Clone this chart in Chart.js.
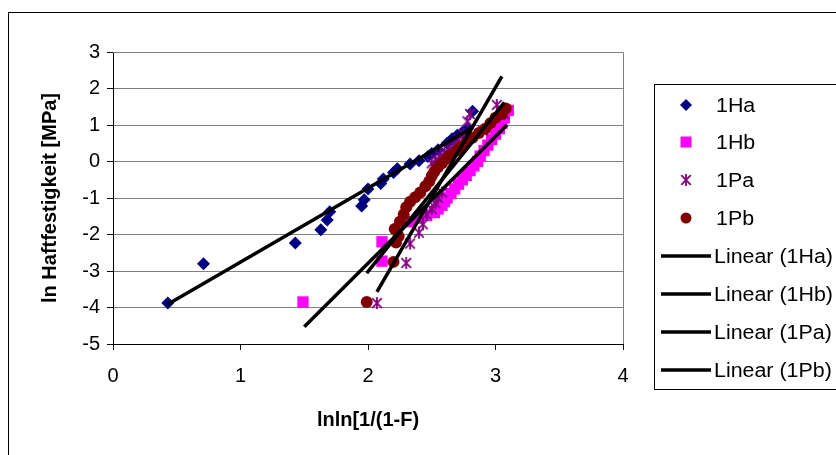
<!DOCTYPE html>
<html>
<head>
<meta charset="utf-8">
<script src="https://cdn.jsdelivr.net/npm/chart.js@4.4.1/dist/chart.umd.min.js"></script>
<style>
html, body { margin: 0; padding: 0; background: #fff; }
#wrap { width: 836px; height: 455px; position: relative; }
</style>
</head>
<body>
<div id="wrap"><canvas id="myChart" width="836" height="455"></canvas></div>
<script>
// x = lnln[1/(1-F)], y = ln Haftfestigkeit
var ha_x = [0.43, 0.71, 1.43, 1.63, 1.68, 1.70, 1.95, 1.97, 2.00, 2.10, 2.12, 2.20, 2.23, 2.33, 2.40, 2.47, 2.50, 2.55, 2.62, 2.66, 2.70, 2.74, 2.78, 2.82];
var ha_y = [-3.88, -2.80, -2.23, -1.87, -1.60, -1.38, -1.22, -1.05, -0.75, -0.60, -0.48, -0.30, -0.20, -0.07, 0.02, 0.14, 0.22, 0.32, 0.50, 0.62, 0.72, 0.80, 0.90, 1.38];

var hb_x = [1.49, 2.11, 2.11, 2.32, 2.40, 2.46, 2.52, 2.55, 2.58, 2.60, 2.62, 2.65, 2.68, 2.71, 2.74, 2.77, 2.80, 2.83, 2.86, 2.88, 2.91, 2.94, 2.97, 3.00, 3.03, 3.05, 3.07, 3.10];
var hb_y = [-3.85, -2.73, -2.20, -1.65, -1.55, -1.48, -1.40, -1.30, -1.20, -1.10, -1.00, -0.88, -0.75, -0.62, -0.50, -0.38, -0.25, -0.12, 0.00, 0.15, 0.30, 0.45, 0.60, 0.75, 0.90, 1.05, 1.20, 1.40];

var pa_x = [2.07, 2.30, 2.33, 2.40, 2.43, 2.46, 2.50, 2.53, 2.55, 2.58, 2.50, 2.53, 2.57, 2.60, 2.64, 2.68, 2.71, 2.75, 2.78, 2.80, 2.90, 3.01, 3.07];
var pa_y = [-3.88, -2.78, -2.25, -1.95, -1.72, -1.45, -1.30, -1.15, -1.00, -0.85, -0.05, 0.05, 0.15, 0.25, 0.35, 0.45, 0.60, 0.75, 1.10, 1.30, 0.85, 1.55, 1.30];

var pb_x = [1.99, 2.20, 2.22, 2.24, 2.21, 2.25, 2.28, 2.30, 2.33, 2.37, 2.41, 2.45, 2.48, 2.50, 2.52, 2.55, 2.58, 2.62, 2.65, 2.70, 2.73, 2.77, 2.82, 2.87, 2.92, 2.96, 3.00, 3.05, 3.08];
var pb_y = [-3.85, -2.75, -2.22, -2.05, -1.85, -1.65, -1.45, -1.25, -1.10, -0.98, -0.85, -0.68, -0.55, -0.40, -0.28, -0.15, -0.05, 0.08, 0.18, 0.30, 0.40, 0.52, 0.65, 0.78, 0.90, 1.05, 1.20, 1.30, 1.45];

// linear trend lines, end points
var fit_ha_x = [0.43, 2.82], fit_ha_y = [-3.91, 0.93];
var fit_hb_x = [1.50, 3.09], fit_hb_y = [-4.53, 1.00];
var fit_pa_x = [2.07, 3.05], fit_pa_y = [-3.57, 2.33];
var fit_pb_x = [1.99, 3.07], fit_pb_y = [-3.06, 1.62];

var seriesNames = ['1Ha', '1Hb', '1Pa', '1Pb'];

function pts(xs, ys) {
    var out = [];
    for (var i = 0; i < xs.length; i++) out.push({x: xs[i], y: ys[i]});
    return out;
}

// asterisk marker like the excel one
function makeStar(size, color) {
    var c = document.createElement('canvas');
    c.width = size; c.height = size;
    var g = c.getContext('2d');
    g.strokeStyle = color;
    g.lineWidth = 1.8;
    var m = size / 2, r = size / 2 - 1;
    g.beginPath();
    g.moveTo(m, m - r); g.lineTo(m, m + r);
    g.moveTo(m - r * 0.8, m - r * 0.8); g.lineTo(m + r * 0.8, m + r * 0.8);
    g.moveTo(m + r * 0.8, m - r * 0.8); g.lineTo(m - r * 0.8, m + r * 0.8);
    g.stroke();
    return c;
}
var starImg = makeStar(14, '#800080');

var FONT = "'Liberation Sans', Arial, sans-serif";

var frame = {
    id: 'frame',
    beforeDatasetsDraw: function(chart) {
        var a = chart.chartArea, ctx = chart.ctx;
        ctx.save();
        ctx.strokeStyle = '#808080';
        ctx.lineWidth = 1;
        ctx.beginPath();
        ctx.moveTo(a.left, a.top + 0.5); ctx.lineTo(a.right + 0.5, a.top + 0.5);
        ctx.lineTo(a.right + 0.5, a.bottom);
        ctx.stroke();
        ctx.restore();
    },
    afterDraw: function(chart) {
        var ctx = chart.ctx;
        ctx.save();
        // outer border
        ctx.strokeStyle = '#000';
        ctx.lineWidth = 1;
        ctx.strokeRect(8.5, 12.5, 900, 500);
        // legend box
        ctx.strokeRect(654.5, 84.5, 200, 305);
        ctx.fillStyle = '#000';
        ctx.textBaseline = 'middle';
        var rows = [105, 142, 180, 218, 256, 294, 332, 370];
        var dsets = chart.data.datasets;
        for (var i = 0; i < 8; i++) {
            var ds = dsets[i], y = rows[i];
            var tx = 716;
            if (i < 4) {
                drawMarker(ctx, ds, 686, y);
            } else {
                ctx.strokeStyle = '#000';
                ctx.lineWidth = 3.5;
                ctx.beginPath();
                ctx.moveTo(661, y); ctx.lineTo(711, y);
                ctx.stroke();
                tx = 714;
            }
            ctx.save();
            ctx.fillStyle = '#000';
            ctx.font = '20px ' + FONT;
            ctx.translate(tx, y + 1);
            ctx.scale(1.07, 1);
            ctx.fillText(ds.label, 0, 0);
            ctx.restore();
        }
        ctx.restore();
    }
};

function drawMarker(ctx, ds, x, y) {
    ctx.fillStyle = ds.backgroundColor;
    ctx.beginPath();
    if (ds.pointStyle === 'rectRot') {
        ctx.moveTo(x, y - 6); ctx.lineTo(x + 6, y); ctx.lineTo(x, y + 6); ctx.lineTo(x - 6, y);
        ctx.closePath(); ctx.fill();
    } else if (ds.pointStyle === 'rect') {
        ctx.rect(x - 5.5, y - 5.5, 11, 11); ctx.fill();
    } else if (ds.pointStyle === 'circle') {
        ctx.arc(x, y, 5.5, 0, Math.PI * 2); ctx.fill();
    } else {
        ctx.drawImage(starImg, x - 7, y - 7);
    }
}

window.onload = function(){
    var ctx = document.getElementById('myChart').getContext('2d');
    window.myChart = new Chart(ctx, {
        type: 'scatter',
        data: {
            datasets: [{
                label: seriesNames[0],
                data: pts(ha_x, ha_y),
                pointStyle: 'rectRot',
                radius: 6.5,
                backgroundColor: '#000080',
                borderColor: '#000080',
                borderWidth: 0,
                order: 8
            }, {
                label: seriesNames[1],
                data: pts(hb_x, hb_y),
                pointStyle: 'rect',
                radius: 8,
                backgroundColor: '#ff00ff',
                borderColor: '#ff00ff',
                borderWidth: 0,
                order: 7
            }, {
                label: seriesNames[2],
                data: pts(pa_x, pa_y),
                pointStyle: starImg,
                radius: 7,
                backgroundColor: '#800080',
                borderColor: '#800080',
                order: 6
            }, {
                label: seriesNames[3],
                data: pts(pb_x, pb_y),
                pointStyle: 'circle',
                radius: 6,
                backgroundColor: '#800000',
                borderColor: '#800000',
                borderWidth: 0,
                order: 5
            }, {
                label: 'Linear (1Ha)',
                data: pts(fit_ha_x, fit_ha_y),
                showLine: true, pointRadius: 0,
                borderColor: '#000', borderWidth: 3.5, order: 4
            }, {
                label: 'Linear (1Hb)',
                data: pts(fit_hb_x, fit_hb_y),
                showLine: true, pointRadius: 0,
                borderColor: '#000', borderWidth: 3.5, order: 3
            }, {
                label: 'Linear (1Pa)',
                data: pts(fit_pa_x, fit_pa_y),
                showLine: true, pointRadius: 0,
                borderColor: '#000', borderWidth: 3.5, order: 2
            }, {
                label: 'Linear (1Pb)',
                data: pts(fit_pb_x, fit_pb_y),
                showLine: true, pointRadius: 0,
                borderColor: '#000', borderWidth: 3.5, order: 1
            }]
        },
        options: {
            responsive: false,
            animation: false,
            events: [],
            layout: { padding: { left: 0, top: 52, right: 213, bottom: 0 } },
            plugins: {
                legend: { display: false },
                tooltip: { enabled: false }
            },
            scales: {
                x: {
                    type: 'linear',
                    min: 0, max: 4,
                    ticks: { stepSize: 1, color: '#000', padding: 14, font: { family: FONT, size: 20 } },
                    grid: { drawOnChartArea: false, drawTicks: true, tickLength: 6, tickColor: '#000' },
                    border: { color: '#000', width: 1 },
                    title: { display: true, text: 'lnln[1/(1-F)', color: '#000',
                             font: { family: FONT, size: 20, weight: 'bold' }, padding: { top: 0, bottom: 23 } },
                    afterFit: function(s) { s.height = 111; }
                },
                y: {
                    min: -5, max: 3,
                    ticks: { stepSize: 1, color: '#000', padding: 7, font: { family: FONT, size: 20 } },
                    grid: { color: '#808080', tickLength: 6, tickColor: '#000' },
                    border: { color: '#000', width: 1 },
                    title: { display: true, text: 'ln Haftfestigkeit [MPa]', color: '#000',
                             font: { family: FONT, size: 20, weight: 'bold' }, padding: { top: 38, bottom: 0 } },
                    afterFit: function(s) { s.width = 113; }
                }
            }
        },
        plugins: [frame]
    });
};
</script>
</body>
</html>
